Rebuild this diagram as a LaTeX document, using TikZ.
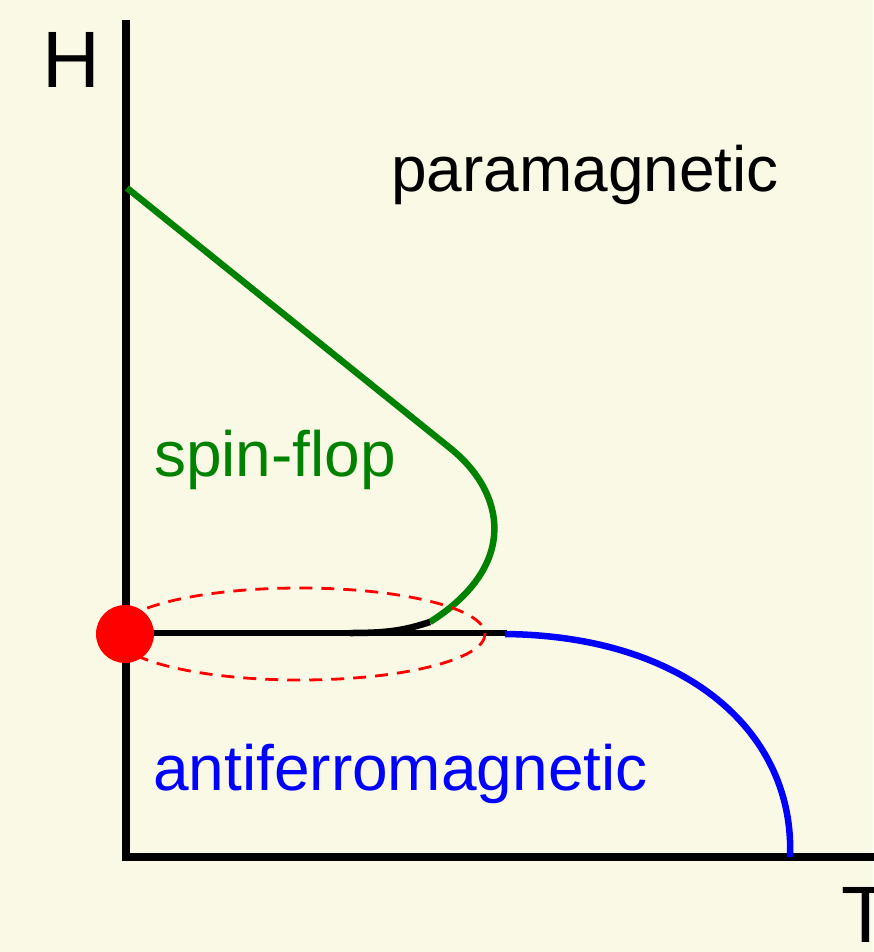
\documentclass[tikz,border=0pt]{standalone}
\usepackage{fontspec}
\setmainfont{Liberation Sans}
\definecolor{bgc}{RGB}{250,249,230}
\definecolor{sfgreen}{RGB}{0,130,0}
\tikzset{
  axisline/.style={line width=7.5pt, black},
  curve/.style={line width=6.5pt},
  lbl/.style={inner sep=0pt, anchor=base west, font=\fontsize{64}{70}\selectfont},
  axlbl/.style={inner sep=0pt, anchor=base west, font=\fontsize{80}{88}\selectfont},
}
\begin{document}
\begin{tikzpicture}[x=1pt,y=-1pt]
\fill[bgc] (0,0) rectangle (873,952);
\useasboundingbox (0,0) rectangle (873,952);
% axes
\coordinate (top) at (126,20);
\coordinate (origin) at (126,857);
\coordinate (right) at (880,857);
\draw[axisline] (top) -- (origin);
\draw[axisline] (122.25,857) -- (right);
% green spin-flop boundary
\coordinate (gS) at (127,188);
\coordinate (gM) at (450,448);
\coordinate (jA) at (430,622);
\draw[curve, sfgreen] (gS) -- (gM) .. controls (505,492) and (520,565) .. (jA);
% black first-order line
\draw[curve, black] (jA) .. controls (405,630) and (390,633) .. (350,633);
\draw[curve, black] (126,633) -- (507,633);
% blue boundary
\coordinate (bS) at (505,634);
\coordinate (bE) at (790,857);
\draw[curve, blue] (bS) .. controls (690,636) and (795,735) .. (bE);
% dashed ellipse
\draw[red, line width=2.8pt, dash pattern=on 13pt off 9pt] (300,634) ellipse [x radius=185, y radius=46];
% red dot
\node[circle, fill=red, minimum size=58pt, inner sep=0pt] (dot) at (125,634) {};
% labels
\node[axlbl] (H) at (42,88) {H};
\node[axlbl] (T) at (841,942) {T};
\node[lbl] (para) at (391,192) {paramagnetic};
\node[lbl, text=sfgreen] (sf) at (154,476) {spin-flop};
\node[lbl, text=blue] (af) at (153,790) {antiferromagnetic};
\end{tikzpicture}
\end{document}
